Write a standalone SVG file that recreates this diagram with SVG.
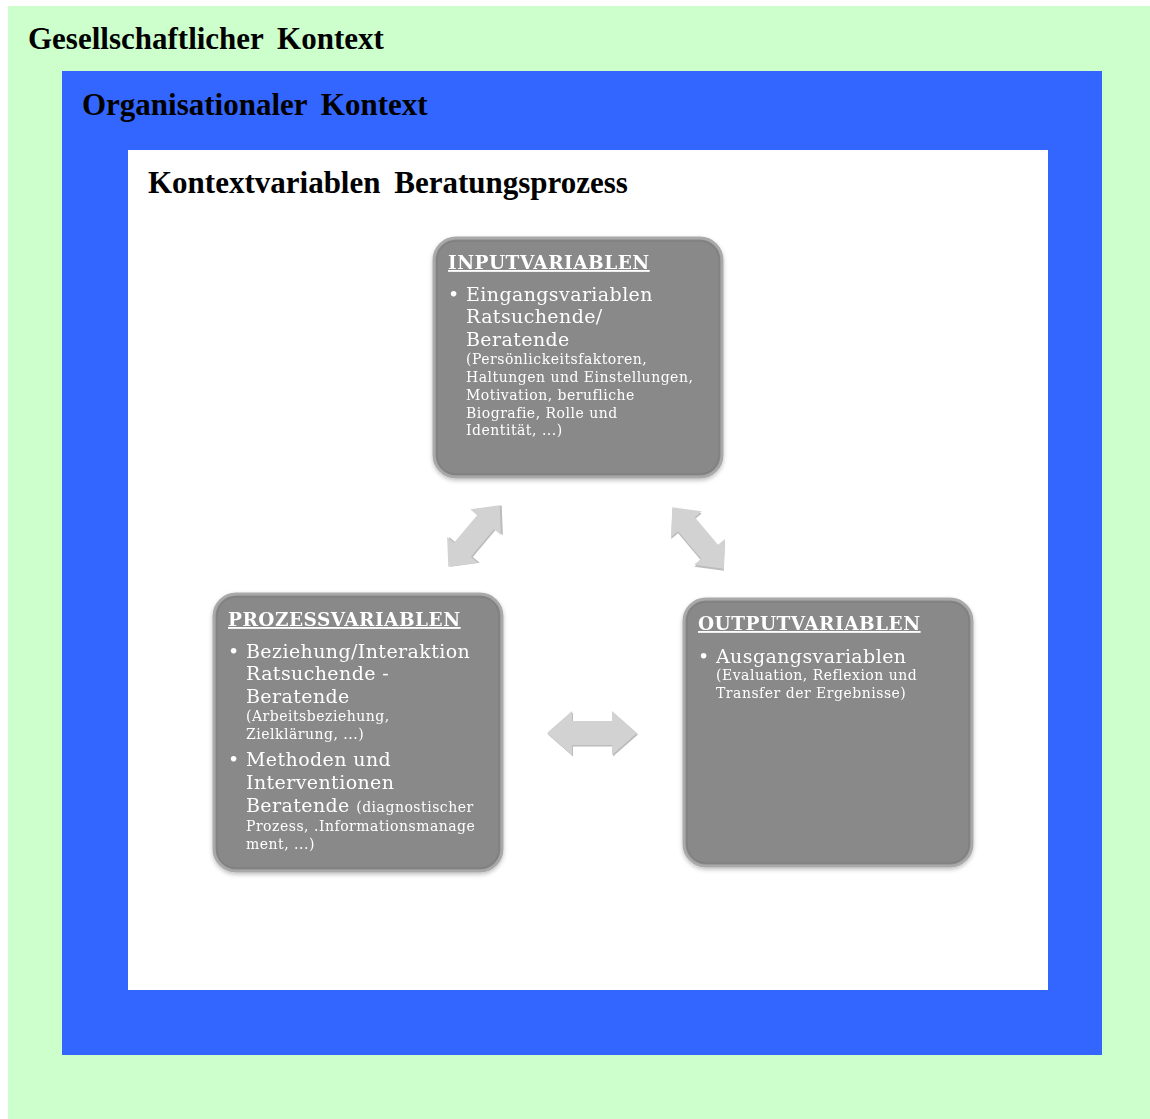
<svg xmlns="http://www.w3.org/2000/svg" width="1150" height="1119" viewBox="0 0 1150 1119">
  <style>
    .frame-title { font-family: "Liberation Serif", "Times New Roman", serif; font-weight: bold; font-size: 31px; fill: #000; word-spacing: 6px; }
    .box { fill: #898989; stroke: #a9a9a9; stroke-width: 3; }
    .box-edge { fill: none; stroke: #7c7c7c; stroke-width: 1; }
    .head { font-family: "DejaVu Serif", "Liberation Serif", serif; font-weight: bold; font-size: 18.5px; letter-spacing: 0.5px; fill: #fff; text-decoration: underline; }
    .main { font-family: "DejaVu Serif", "Liberation Serif", serif; font-size: 19px; letter-spacing: 0.4px; fill: #fff; }
    .small { font-family: "DejaVu Serif", "Liberation Serif", serif; font-size: 14px; letter-spacing: 0.5px; fill: #fff; }
    .arrow { fill: #d2d2d2; }
    .arrow-shade { fill: #bcbcbc; }
  </style>
  <defs>
    <filter id="soft" x="-10%" y="-10%" width="120%" height="125%">
      <feGaussianBlur in="SourceAlpha" stdDeviation="2"/>
      <feOffset dx="0" dy="2" result="b"/>
      <feFlood flood-color="#000" flood-opacity="0.25"/>
      <feComposite in2="b" operator="in"/>
      <feMerge><feMergeNode/><feMergeNode in="SourceGraphic"/></feMerge>
    </filter>
    <path id="arrow-h" d="M -45 0 L -20 -22 L -20 -12 L 20 -12 L 20 -22 L 45 0 L 20 22 L 20 12 L -20 12 L -20 22 Z"/>
    <path id="arrow-d" d="M -40 0 L -18 -20 L -18 -11 L 18 -11 L 18 -20 L 40 0 L 18 20 L 18 11 L -18 11 L -18 20 Z"/>
  </defs>

  <!-- nested context frames -->
  <g id="frame-society">
    <rect x="8" y="6" width="1142" height="1113" fill="#ccffcc"/>
    <text class="frame-title" x="28" y="49">Gesellschaftlicher Kontext</text>
  </g>
  <g id="frame-organisation">
    <rect x="62" y="71" width="1040" height="984" fill="#3366ff"/>
    <text class="frame-title" x="82" y="115">Organisationaler Kontext</text>
  </g>
  <g id="frame-process">
    <rect x="128" y="150" width="920" height="840" fill="#ffffff"/>
    <text class="frame-title" x="148" y="193">Kontextvariablen Beratungsprozess</text>
  </g>

  <!-- input node -->
  <g id="node-input" filter="url(#soft)">
    <rect class="box" x="434" y="238" width="288" height="239" rx="22"/>
    <rect class="box-edge" x="437" y="241" width="282" height="233" rx="19"/>
    <text class="head" x="448" y="269">INPUTVARIABLEN</text>
    <text class="main" x="448" y="301">•</text>
    <text class="main" x="466" y="301">Eingangsvariablen</text>
    <text class="main" x="466" y="323">Ratsuchende/</text>
    <text class="main" x="466" y="346">Beratende</text>
    <text class="small" x="466" y="364">(Persönlickeitsfaktoren,</text>
    <text class="small" x="466" y="382">Haltungen und Einstellungen,</text>
    <text class="small" x="466" y="400">Motivation, berufliche</text>
    <text class="small" x="466" y="418">Biografie, Rolle und</text>
    <text class="small" x="466" y="435">Identität, ...)</text>
  </g>

  <!-- process node -->
  <g id="node-process" filter="url(#soft)">
    <rect class="box" x="214" y="594" width="288" height="277" rx="22"/>
    <rect class="box-edge" x="217" y="597" width="282" height="271" rx="19"/>
    <text class="head" x="228" y="626">PROZESSVARIABLEN</text>
    <text class="main" x="228" y="658">•</text>
    <text class="main" x="246" y="658">Beziehung/Interaktion</text>
    <text class="main" x="246" y="680">Ratsuchende -</text>
    <text class="main" x="246" y="703">Beratende</text>
    <text class="small" x="246" y="721">(Arbeitsbeziehung,</text>
    <text class="small" x="246" y="739">Zielklärung, ...)</text>
    <text class="main" x="228" y="766">•</text>
    <text class="main" x="246" y="766">Methoden und</text>
    <text class="main" x="246" y="789">Interventionen</text>
    <text x="246" y="812"><tspan class="main">Beratende </tspan><tspan class="small">(diagnostischer</tspan></text>
    <text class="small" x="246" y="831">Prozess, .Informationsmanage</text>
    <text class="small" x="246" y="849">ment, ...)</text>
  </g>

  <!-- output node -->
  <g id="node-output" filter="url(#soft)">
    <rect class="box" x="684" y="599" width="288" height="267" rx="22"/>
    <rect class="box-edge" x="687" y="602" width="282" height="261" rx="19"/>
    <text class="head" x="698" y="630">OUTPUTVARIABLEN</text>
    <text class="main" x="698" y="663">•</text>
    <text class="main" x="716" y="663">Ausgangsvariablen</text>
    <text class="small" x="716" y="680">(Evaluation, Reflexion und</text>
    <text class="small" x="716" y="698">Transfer der Ergebnisse)</text>
  </g>

  <!-- double-headed connectors between the nodes -->
  <g id="connectors">
    <g transform="translate(474 536) rotate(-50)">
      <use href="#arrow-d" class="arrow-shade" x="1.2" y="1.6"/>
      <use href="#arrow-d" class="arrow"/>
    </g>
    <g transform="translate(698 538) rotate(50)">
      <use href="#arrow-d" class="arrow-shade" x="1.6" y="1.2"/>
      <use href="#arrow-d" class="arrow"/>
    </g>
    <g transform="translate(592 733)">
      <use href="#arrow-h" class="arrow-shade" x="1" y="1.5"/>
      <use href="#arrow-h" class="arrow"/>
    </g>
  </g>
</svg>
